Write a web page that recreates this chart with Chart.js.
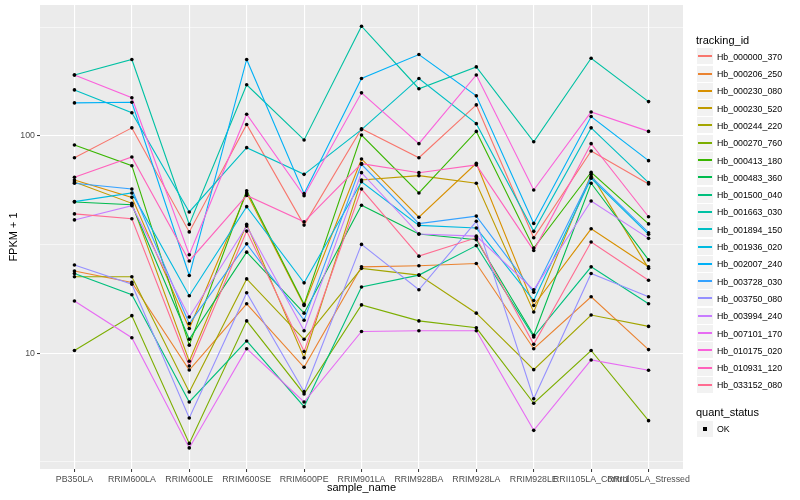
<!DOCTYPE html>
<html>
<head>
<meta charset="utf-8">
<script src="https://cdn.jsdelivr.net/npm/chart.js@4.4.1/dist/chart.umd.min.js"></script>
<style>
  body { margin: 0; background: #fff; font-family: "Liberation Sans", Arial, sans-serif; }
  #wrap { position: relative; width: 800px; height: 500px; }
  #chart { position: absolute; left: 0; top: 0; }
  .lt { position: absolute; font-size: 11px; line-height: 13px; color: #000; white-space: nowrap; }
  .key { position: absolute; width: 16px; height: 16px; background: #F2F2F2; }
  .key i { position: absolute; display: block; left: 1px; width: 14px; top: 7px; height: 2px; }
  .key b { position: absolute; display: block; left: 6px; top: 6px; width: 4px; height: 4px; background: #000; }
  .lab { position: absolute; font-size: 8.8px; line-height: 10px; color: #000; white-space: nowrap; }
</style>
</head>
<body>
<div id="wrap">
  <canvas id="chart" width="800" height="500"></canvas>
  <div id="legend"></div>
</div>
<script>
const sampleNames = ['PB350LA', 'RRIM600LA', 'RRIM600LE', 'RRIM600SE', 'RRIM600PE', 'RRIM901LA',
  'RRIM928BA', 'RRIM928LA', 'RRIM928LE', 'RRII105LA_Control', 'RRII105LA_Stressed'];

const trackingIds = ['Hb_000000_370', 'Hb_000206_250', 'Hb_000230_080', 'Hb_000230_520', 'Hb_000244_220',
  'Hb_000270_760', 'Hb_000413_180', 'Hb_000483_360', 'Hb_001500_040', 'Hb_001663_030', 'Hb_001894_150',
  'Hb_001936_020', 'Hb_002007_240', 'Hb_003728_030', 'Hb_003750_080', 'Hb_003994_240', 'Hb_007101_170',
  'Hb_010175_020', 'Hb_010931_120', 'Hb_033152_080'];

const seriesColors = ['#F8766D', '#EA8331', '#D89000', '#C09B00', '#A3A500', '#7CAE00', '#39B600', '#00BB4E',
  '#00BF7D', '#00C1A3', '#00BFC4', '#00BAE0', '#00B0F6', '#35A2FF', '#9590FF', '#C77CFF', '#E76BF3',
  '#FA62DB', '#FF62BC', '#FF6C91'];

// FPKM + 1, one value per sample
const hb000000_370 = [79.4, 109, 36.2, 113, 38.9, 108, 79.4, 139, 34.0, 85.3, 60.1];
const hb000206_250 = [23.9, 21.2, 8.38, 16.9, 8.62, 25.0, 25.3, 25.9, 10.5, 18.2, 10.4];
const hb000230_080 = [62.7, 52.2, 13.0, 54.7, 16.6, 78.4, 42.3, 74.9, 16.6, 37.4, 25.0];
const hb000230_520 = [61.4, 49.0, 9.19, 39.2, 9.54, 62.7, 65.7, 60.6, 15.5, 66.6, 24.6];
const hb000244_220 = [22.5, 22.5, 6.64, 22.0, 11.6, 24.6, 22.9, 15.3, 8.41, 15.0, 13.3];
const hb000270_760 = [10.3, 14.9, 3.85, 14.1, 6.50, 16.7, 14.1, 13.1, 5.89, 10.3, 4.90];
const hb000413_180 = [90.9, 73.0, 10.9, 56.0, 16.8, 101, 54.7, 105, 30.5, 68.1, 39.4];
const hb000483_360 = [49.7, 48.3, 11.6, 29.2, 15.3, 48.0, 35.4, 33.3, 12.1, 60.6, 26.9];
const hb001500_040 = [23.3, 18.6, 5.97, 11.4, 5.68, 20.2, 22.9, 31.3, 11.9, 25.0, 16.9];
const hb001663_030 = [191, 225, 39.2, 172, 95.9, 320, 165, 208, 94.1, 228, 144];
const hb001894_150 = [163, 128, 44.7, 88.4, 66.6, 107, 184, 114, 36.4, 109, 61.0];
const hb001936_020 = [49.9, 54.7, 18.4, 47.3, 21.1, 61.6, 38.8, 37.7, 17.5, 63.9, 35.3];
const hb002007_240 = [142, 143, 22.8, 225, 54.3, 184, 237, 153, 39.6, 123, 77.0];
const hb003728_030 = [60.6, 57.0, 13.7, 31.9, 14.2, 74.1, 39.5, 42.8, 19.1, 65.0, 35.9];
const hb003750_080 = [25.5, 20.8, 5.04, 19.0, 6.66, 31.7, 19.6, 40.5, 6.18, 23.3, 18.2];
const hb003994_240 = [41.1, 47.8, 14.7, 38.5, 12.7, 67.8, 35.4, 34.6, 19.6, 50.2, 33.8];
const hb007101_170 = [17.4, 11.8, 3.67, 10.5, 5.97, 12.6, 12.7, 12.7, 4.42, 9.32, 8.35];
const hb010175_020 = [191, 150, 28.4, 126, 53.1, 158, 92.2, 191, 56.4, 129, 105];
const hb010931_120 = [64.6, 80.1, 26.6, 53.3, 40.3, 74.6, 67.8, 73.6, 29.7, 92.2, 42.5];
const hb033152_080 = [43.8, 41.6, 8.74, 36.5, 10.2, 57.0, 28.0, 34.0, 11.0, 32.5, 21.7];

const seriesValues = [hb000000_370, hb000206_250, hb000230_080, hb000230_520, hb000244_220, hb000270_760,
  hb000413_180, hb000483_360, hb001500_040, hb001663_030, hb001894_150, hb001936_020, hb002007_240,
  hb003728_030, hb003750_080, hb003994_240, hb007101_170, hb010175_020, hb010931_120, hb033152_080];

const yGridValues = [3.162, 10, 31.62, 100, 316.2];
const yTickLabels = [10, 100];

const FONT = '"Liberation Sans", Arial, sans-serif';
Chart.defaults.font.family = FONT;

const toPoints = vals => vals.map((v, i) => ({ x: i, y: v }));

const lineSets = seriesValues.map((vals, i) => ({
  label: trackingIds[i],
  data: toPoints(vals),
  borderColor: seriesColors[i],
  borderWidth: 1.1,
  pointRadius: 0,
  tension: 0,
  order: seriesValues.length - i
}));

const pointSet = {
  label: 'OK',
  data: seriesValues.flatMap(toPoints),
  showLine: false,
  pointRadius: 1.8,
  pointBorderWidth: 0,
  pointBackgroundColor: '#000',
  borderColor: '#000',
  order: -1
};

const panelBg = {
  id: 'panelBg',
  beforeDraw(chart) {
    const { ctx, chartArea: a } = chart;
    ctx.save();
    ctx.fillStyle = '#EBEBEB';
    ctx.fillRect(a.left, a.top, a.right - a.left, a.bottom - a.top);
    ctx.restore();
  }
};

const isMajorY = c => c.tick && yTickLabels.includes(c.tick.value);

new Chart(document.getElementById('chart').getContext('2d'), {
  type: 'line',
  data: { datasets: [...lineSets, pointSet] },
  plugins: [panelBg],
  options: {
    responsive: false,
    animation: false,
    layout: { padding: { left: 0, right: 117, top: 5, bottom: 0 } },
    plugins: { legend: { display: false }, tooltip: { enabled: false } },
    scales: {
      x: {
        type: 'linear',
        min: -0.6,
        max: 10.6,
        afterBuildTicks: s => { s.ticks = sampleNames.map((_, i) => ({ value: i })); },
        afterFit: s => { s.height = 31; s.paddingLeft = 0; s.paddingRight = 0; },
        ticks: {
          autoSkip: false, maxRotation: 0, minRotation: 0, padding: 2,
          color: '#4D4D4D', font: { size: 8.8 },
          callback: v => sampleNames[v] ?? ''
        },
        grid: { color: '#FFFFFF', lineWidth: 1.1, tickLength: 3, tickColor: '#333333', tickWidth: 1 },
        border: { display: false },
        title: { display: true, text: 'sample_name', color: '#000', font: { size: 11 }, padding: { top: 0, bottom: 5 } }
      },
      y: {
        type: 'logarithmic',
        min: 2.935,
        max: 400.7,
        afterBuildTicks: s => { s.ticks = yGridValues.map(v => ({ value: v })); },
        afterFit: s => { s.width = 40; s.paddingTop = 0; s.paddingBottom = 0; },
        ticks: {
          padding: 2, color: '#4D4D4D', font: { size: 8.8 },
          callback: v => yTickLabels.includes(v) ? String(v) : ''
        },
        grid: {
          color: '#FFFFFF',
          lineWidth: c => isMajorY(c) ? 1.1 : 0.55,
          tickLength: 3,
          tickColor: c => isMajorY(c) ? '#333333' : 'rgba(0,0,0,0)',
          tickWidth: 1
        },
        border: { display: false },
        title: { display: true, text: 'FPKM + 1', color: '#000', font: { size: 11 }, padding: { top: 7, bottom: 0 } }
      }
    }
  }
});

// legend, laid out like the ggplot guide
const legend = document.getElementById('legend');
function add(cls, left, top, html) {
  const el = document.createElement('div');
  el.className = cls;
  el.style.left = left + 'px';
  el.style.top = top + 'px';
  el.innerHTML = html;
  legend.appendChild(el);
  return el;
}
add('lt', 696, 34, 'tracking_id');
trackingIds.forEach((id, i) => {
  const yc = 56.7 + 17.3 * i;
  add('key', 697, Math.round(yc - 8.5), '<i style="background-color:' + seriesColors[i] + '"></i>');
  add('lab', 717, Math.round(yc - 5), id);
});
add('lt', 696, 406, 'quant_status');
add('key', 697, 421, '<b></b>');
add('lab', 717, 424, 'OK');
</script>
</body>
</html>
